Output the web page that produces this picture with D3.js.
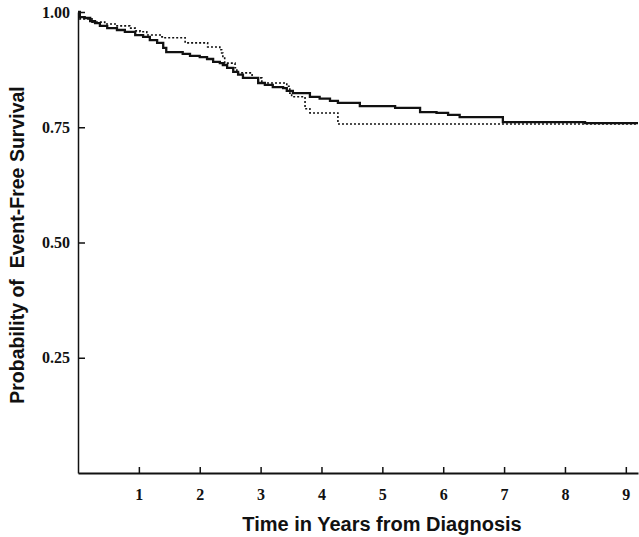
<!DOCTYPE html>
<html>
<head>
<meta charset="utf-8">
<script src="https://cdn.jsdelivr.net/npm/d3@7"></script>
<style>
  body { margin: 0; background: #fff; }
  .tick text { font-family: "Liberation Serif", "DejaVu Serif", serif; font-weight: bold; font-size: 16px; fill: #111; }
  .axisTitle { font-family: "Liberation Sans", Arial, sans-serif; font-weight: bold; fill: #111; }
</style>
</head>
<body>
<div id="chart"></div>
<script>
// step points (time in years, survival probability)
var solidTime = [0, 0.03, 0.11, 0.20, 0.28, 0.36, 0.48, 0.64, 0.77, 0.94, 1.07, 1.18, 1.30, 1.40, 1.45,
  1.72, 1.84, 2.00, 2.12, 2.22, 2.33, 2.38, 2.45, 2.55, 2.63, 2.71, 2.96, 3.07, 3.20, 3.37, 3.43,
  3.53, 3.81, 3.97, 4.14, 4.27, 4.63, 5.21, 5.62, 5.89, 6.08, 6.27, 6.98, 8.33, 9.2];
var solidSurv = [1.000, 0.989, 0.987, 0.980, 0.976, 0.970, 0.965, 0.961, 0.957, 0.950, 0.946, 0.939, 0.933, 0.922, 0.913,
  0.909, 0.905, 0.902, 0.898, 0.892, 0.889, 0.885, 0.879, 0.870, 0.864, 0.857, 0.846, 0.842, 0.837, 0.835, 0.829,
  0.824, 0.816, 0.812, 0.807, 0.803, 0.796, 0.792, 0.783, 0.781, 0.777, 0.772, 0.761, 0.759, 0.759];

var dottedTime = [0, 0.03, 0.23, 0.44, 0.61, 0.85, 0.94, 1.02, 1.13, 1.35, 1.40, 1.76, 2.13, 2.33, 2.36,
  2.38, 2.41, 2.58, 2.61, 2.86, 3.02, 3.43, 3.48, 3.51, 3.73, 3.81, 4.27, 9.2];
var dottedSurv = [1.000, 0.985, 0.978, 0.974, 0.970, 0.965, 0.959, 0.957, 0.950, 0.946, 0.944, 0.933, 0.924, 0.918, 0.911,
  0.900, 0.889, 0.879, 0.868, 0.857, 0.846, 0.839, 0.824, 0.816, 0.790, 0.781, 0.757, 0.757];

var xTicks = [1, 2, 3, 4, 5, 6, 7, 8, 9];
var yTicks = [0.25, 0.50, 0.75, 1.00];

// set the dimensions and margins of the graph
var margin = {top: 12, right: 1, bottom: 64, left: 78},
    width = 639 - margin.left - margin.right,
    height = 537 - margin.top - margin.bottom;

var svg = d3.select("#chart")
  .append("svg")
    .attr("width", 639)
    .attr("height", 537)
  .append("g")
    .attr("transform", "translate(" + margin.left + "," + margin.top + ")");

var x = d3.scaleLinear().domain([0, 9.2]).range([0, width]);
var y = d3.scaleLinear().domain([0, 1]).range([height, 0]);

// X axis, ticks pointing inward
var xAxis = svg.append("g")
  .attr("transform", "translate(0," + height + ")")
  .call(d3.axisBottom(x).tickValues(xTicks).tickSize(-6).tickSizeOuter(0).tickPadding(16).tickFormat(d3.format("d")));
xAxis.select(".domain").attr("stroke", "#111").attr("stroke-width", 2);
xAxis.selectAll(".tick line").attr("stroke", "#111").attr("stroke-width", 1.5);

// Y axis
var yAxis = svg.append("g")
  .call(d3.axisLeft(y).tickValues(yTicks).tickSize(-7).tickSizeOuter(0).tickPadding(8).tickFormat(d3.format(".2f")));
yAxis.select(".domain").attr("stroke", "#111").attr("stroke-width", 1.5);
yAxis.selectAll(".tick line").attr("stroke", "#111").attr("stroke-width", 1.5);

var line = d3.line()
  .x(function(d) { return x(d[0]); })
  .y(function(d) { return y(d[1]); })
  .curve(d3.curveStepAfter);

var solid = solidTime.map(function(t, i) { return [t, solidSurv[i]]; });
var dotted = dottedTime.map(function(t, i) { return [t, dottedSurv[i]]; });

svg.append("path")
  .datum(dotted)
  .attr("fill", "none")
  .attr("stroke", "#111")
  .attr("stroke-width", 1.6)
  .attr("stroke-dasharray", "2,2")
  .attr("d", line);

svg.append("path")
  .datum(solid)
  .attr("fill", "none")
  .attr("stroke", "#111")
  .attr("stroke-width", 2.3)
  .attr("d", line);

// axis titles
svg.append("text")
  .attr("class", "axisTitle")
  .attr("text-anchor", "middle")
  .attr("x", 382 - margin.left)
  .attr("y", 531 - margin.top)
  .style("font-size", "20px")
  .text("Time in Years from Diagnosis");

svg.append("text")
  .attr("class", "axisTitle")
  .attr("text-anchor", "middle")
  .attr("transform", "rotate(-90)")
  .attr("x", -(245 - margin.top))
  .attr("y", 24 - margin.left)
  .attr("xml:space", "preserve")
  .style("white-space", "pre")
  .style("font-size", "19.5px")
  .text("Probability of  Event-Free Survival");
</script>
</body>
</html>
